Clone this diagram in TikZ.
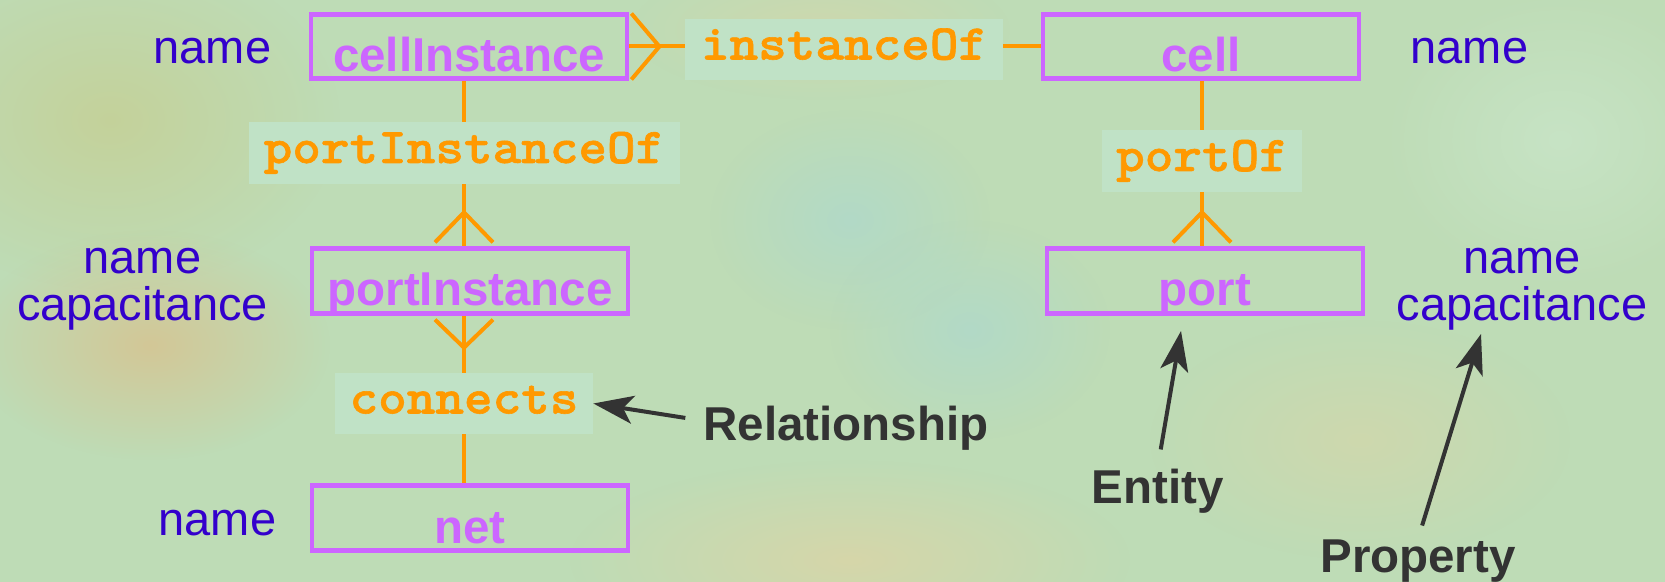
\documentclass[tikz,border=0pt]{standalone}
\usepackage{fontspec}
\setmainfont{Liberation Sans}
\newfontfamily\codefont{lmmonolt10-bold.otf}[FakeStretch=1.09, FakeBold=1.2]
\usetikzlibrary{arrows.meta,fadings,calc}

\definecolor{bgbase}{RGB}{190,220,182}
\definecolor{bgtan}{RGB}{218,192,140}
\definecolor{bgolive}{RGB}{198,206,145}
\definecolor{bgteal}{RGB}{170,216,210}
\definecolor{bgsand}{RGB}{222,212,165}
\definecolor{bgpale}{RGB}{202,230,202}
\definecolor{boxpurple}{RGB}{204,102,255}
\definecolor{relorange}{RGB}{255,153,0}
\definecolor{propblue}{RGB}{51,0,204}
\definecolor{notegray}{RGB}{51,51,51}
\definecolor{relfill}{RGB}{192,226,198}

\tikzfading[name=softblob, inner color=transparent!0, outer color=transparent!100]

\tikzset{
  entbox/.style={draw=boxpurple, line width=2.4pt, minimum width=158pt,
    minimum height=32.25pt, inner sep=0pt, text height=25pt, text depth=0pt,
    text=boxpurple, font=\fontsize{23.75pt}{24pt}\selectfont\bfseries},
  relbox/.style={fill=relfill, inner sep=0pt, text height=15pt, text depth=5pt,
    text=relorange, font=\codefont\fontsize{25pt}{25pt}\selectfont},
  link/.style={draw=relorange, line width=2pt},
  propname/.style={text=propblue, font=\fontsize{23.5pt}{24pt}\selectfont,
    anchor=base, inner sep=0pt},
  note/.style={text=notegray, font=\fontsize{23.75pt}{24pt}\selectfont\bfseries,
    anchor=base, inner sep=0pt},
  pointer/.style={draw=notegray, line width=2pt,
    -{Stealth[length=20pt,width=14pt,inset=5pt]}},
  blob/.style={path fading=softblob, opacity=.75}
}

\begin{document}
\begin{tikzpicture}[x=0.5pt, y=-0.5pt]
  % canvas
  \useasboundingbox (0,0) rectangle (1665,582);
  \fill[bgbase] (0,0) rectangle (1665,582);
  \fill[bgolive, blob] (110,120) ellipse (230 and 170);
  \fill[bgtan, blob] (150,345) ellipse (180 and 115);
  \fill[bgteal, blob, opacity=.6] (850,220) ellipse (140 and 110);
  \fill[bgteal, blob, opacity=.6] (970,330) ellipse (140 and 110);
  \fill[bgsand, blob] (850,560) ellipse (280 and 100);
  \fill[bgsand, blob, opacity=.5] (1360,440) ellipse (210 and 120);
  \fill[bgpale, blob] (1560,140) ellipse (180 and 150);
  \fill[bgsand, blob, opacity=.5] (820,30) ellipse (190 and 70);

  % entities
  \node[entbox] (ci)   at (469,46.5) {cellInstance};
  \node[entbox] (cell) at (1201,46.5) {cell};
  \node[entbox] (pi)   at (470,281) {portInstance};
  \node[entbox] (port) at (1205,281) {port};
  \node[entbox] (net)  at (470,518) {net};

  % relationships
  \node[relbox, minimum width=159pt, minimum height=30.5pt] (io) at (844,49.5) {instanceOf};
  \node[relbox, minimum width=215.5pt, minimum height=31pt] (pio) at (464,153) {portInstanceOf};
  \node[relbox, minimum width=129pt, minimum height=30.5pt] (con) at (464,403.5) {connects};
  \node[relbox, minimum width=100pt, minimum height=31pt] (po) at (1202,161) {portOf};

  % properties
  \node[propname] (ciname) at (212.5,64) {name};
  \node[propname] (cellname) at (1469.5,64) {name};
  \node[propname] (piname) at (142.5,274) {name};
  \node[propname] (picap) at (142.5,321) {capacitance};
  \node[propname] (portname) at (1522,274) {name};
  \node[propname] (portcap) at (1522,321) {capacitance};
  \node[propname] (netname) at (217.5,535) {name};

  % connectors
  \draw[link] (ci.east) -- (ci.east -| io.west);
  \draw[link] (io.east |- cell.west) -- (cell.west);
  \draw[link] (ci.south -| pio.north) -- (pio.north);
  \draw[link] (pio.south) -- (pio.south |- pi.north);
  \draw[link] (pi.south -| con.north) -- (con.north);
  \draw[link] (con.south) -- (con.south |- net.north);
  \draw[link] (cell.south -| po.north) -- (po.north);
  \draw[link] (po.south) -- (po.south |- port.north);

  % crow's feet (many side)
  \draw[link] (ci.east) ++(2,-33) -- ++(28,33) -- ++(-28,33);
  \draw[link] (pi.north -| pio.south) ++(-29,-4) -- ++(29,-30) -- ++(29,30);
  \draw[link] (pi.south -| con.north) ++(-29,4) -- ++(29,28) -- ++(29,-28);
  \draw[link] (port.north -| po.south) ++(-29,-4) -- ++(29,-30) -- ++(29,30);

  % annotations
  \node[note] (rel) at (846,441) {Relationship};
  \node[note] (ent) at (1157.5,503) {Entity};
  \node[note] (prop) at (1418,572) {Property};
  \coordinate (enttip) at (1181,331);
  \coordinate (proptip) at (1481,334);
  \draw[pointer, shorten <=9pt] ([yshift=4pt]rel.west) -- (con.east);
  \draw[pointer, shorten <=9.5pt] (ent.north) -- (enttip);
  \draw[pointer, shorten <=7pt] (prop.north) -- (proptip);
\end{tikzpicture}
\end{document}
